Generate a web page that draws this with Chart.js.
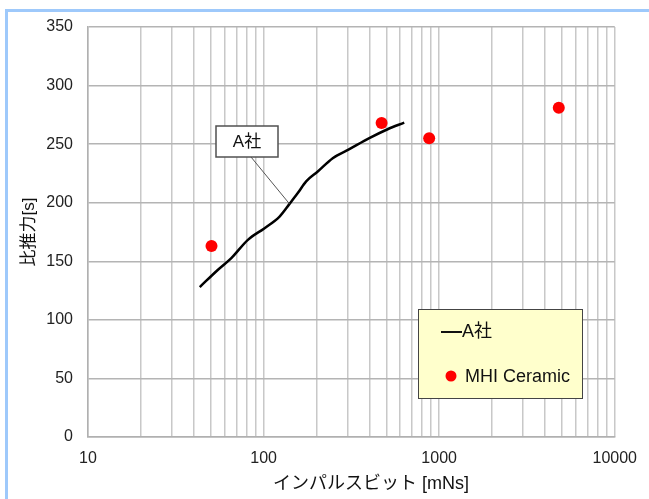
<!DOCTYPE html>
<html>
<head>
<meta charset="utf-8">
<script src="https://cdn.jsdelivr.net/npm/chart.js@4/dist/chart.umd.min.js"></script>
<style>
  html, body { margin: 0; padding: 0; background: #fff; }
  #wrap { position: relative; width: 649px; height: 499px; }
  #frame {
    position: absolute; left: 5px; top: 9px; right: 0; bottom: 0;
    border-top: 3px solid #9ec9fb; border-left: 3px solid #9ec9fb;
    pointer-events: none;
  }
</style>
</head>
<body>
<div id="wrap">
  <canvas id="chart" width="649" height="499"></canvas>
  <div id="frame"></div>
</div>
<script>
// A社 curve (impulse bit [mNs] vs specific impulse [s])
const lineLabel = "A社";
const lineX = [43.3, 55.0, 65.5, 81.4, 101.3, 123.3, 140.5, 156.6, 174.8, 203.5, 247.6, 308, 400, 508.5, 632.5];
const lineY = [128.0, 142.8, 152.7, 168.3, 178.3, 188.2, 199.0, 208.2, 218.2, 226.6, 238.0, 245.7, 255.1, 262.7, 268.4];

// MHI Ceramic points
const dotLabel = "MHI Ceramic";
const dotX = [50.5, 470, 877, 4800];
const dotY = [163, 268, 255, 281];

// axis ticks
const xTicks = [10, 20, 30, 40, 50, 60, 70, 80, 90,
  100, 200, 300, 400, 500, 600, 700, 800, 900,
  1000, 2000, 3000, 4000, 5000, 6000, 7000, 8000, 9000, 10000];
const xTickLabels = ["10", "100", "1000", "10000"];
const yTicks = [0, 50, 100, 150, 200, 250, 300, 350];

const xTitle = "インパルスビット [mNs]";
const yTitle = "比推力[s]";

const FONT = "'Liberation Sans', Arial, 'Noto Sans CJK JP', sans-serif";

// callout box pointing at the A社 curve
const calloutPlugin = {
  id: "callout",
  afterDatasetsDraw(chart) {
    const { ctx, scales: { x, y } } = chart;
    const tx = x.getPixelForValue(140.5);
    const ty = y.getPixelForValue(199);
    const bx = 216, by = 126, bw = 62, bh = 31;
    ctx.save();
    ctx.strokeStyle = "#555";
    ctx.lineWidth = 1;
    ctx.beginPath();
    ctx.moveTo(251, by + bh);
    ctx.lineTo(tx, ty);
    ctx.stroke();
    ctx.fillStyle = "#fff";
    ctx.fillRect(bx, by, bw, bh);
    ctx.lineWidth = 1.5;
    ctx.strokeStyle = "#505050";
    ctx.strokeRect(bx, by, bw, bh);
    ctx.fillStyle = "#111";
    ctx.font = "17px " + FONT;
    ctx.textAlign = "center";
    ctx.textBaseline = "middle";
    ctx.fillText(lineLabel, bx + bw / 2, by + bh / 2 + 1);
    ctx.restore();
  }
};

// legend box drawn inside the plot
const legendBoxPlugin = {
  id: "legendBox",
  afterDraw(chart) {
    const { ctx } = chart;
    const bx = 418, by = 309, bw = 164, bh = 89;
    ctx.save();
    ctx.fillStyle = "#ffffcc";
    ctx.fillRect(bx, by, bw, bh);
    ctx.strokeStyle = "#444";
    ctx.lineWidth = 1;
    ctx.strokeRect(bx + 0.5, by + 0.5, bw, bh);

    ctx.font = "18px " + FONT;
    ctx.textBaseline = "middle";
    ctx.textAlign = "left";
    ctx.fillStyle = "#111";

    ctx.strokeStyle = "#111";
    ctx.lineWidth = 2;
    ctx.beginPath();
    ctx.moveTo(441, 332);
    ctx.lineTo(462, 332);
    ctx.stroke();
    ctx.fillText(chart.data.datasets[0].label, 462, 332);

    ctx.fillStyle = "#ff0000";
    ctx.beginPath();
    ctx.arc(451, 376, 5.5, 0, Math.PI * 2);
    ctx.fill();
    ctx.fillStyle = "#111";
    ctx.fillText(chart.data.datasets[1].label, 465, 377);
    ctx.restore();
  }
};

// x axis title, sits a bit right of centre in the original
const xTitlePlugin = {
  id: "xTitle",
  afterDraw(chart) {
    const { ctx } = chart;
    ctx.save();
    ctx.font = "18px " + FONT;
    ctx.fillStyle = "#111";
    ctx.textAlign = "center";
    ctx.textBaseline = "middle";
    ctx.fillText(xTitle, 371, 484);
    ctx.restore();
  }
};

const ctx = document.getElementById("chart").getContext("2d");

new Chart(ctx, {
  type: "scatter",
  data: {
    datasets: [
      {
        label: lineLabel,
        type: "line",
        data: lineX.map((v, i) => ({ x: v, y: lineY[i] })),
        borderColor: "#000",
        borderWidth: 2.5,
        pointRadius: 0,
        cubicInterpolationMode: "monotone",
        fill: false,
        order: 2,
      },
      {
        label: dotLabel,
        data: dotX.map((v, i) => ({ x: v, y: dotY[i] })),
        backgroundColor: "#ff0000",
        borderWidth: 0,
        pointRadius: 6,
        order: 1,
      },
    ],
  },
  options: {
    responsive: false,
    animation: false,
    layout: {
      padding: { left: 0, top: 27, right: 31, bottom: 0 },
    },
    plugins: {
      legend: { display: false },
      tooltip: { enabled: false },
    },
    scales: {
      x: {
        type: "logarithmic",
        min: 10,
        max: 10000,
        afterBuildTicks: (scale) => {
          scale.ticks = xTicks.map((v) => ({ value: v }));
        },
        afterFit: (scale) => {
          scale.height = 62;
        },
        grid: {
          color: "#c8c8c8",
          lineWidth: 1.5,
          drawTicks: false,
        },
        border: { color: "#b0b0b0", width: 1.5 },
        ticks: {
          autoSkip: false,
          maxRotation: 0,
          padding: 12,
          color: "#222",
          font: { size: 16, family: FONT },
          callback: (value) => {
            const s = String(value);
            return xTickLabels.includes(s) ? s : "";
          },
        },
      },
      y: {
        min: 0,
        max: 350,
        afterBuildTicks: (scale) => {
          scale.ticks = yTicks.map((v) => ({ value: v }));
        },
        afterFit: (scale) => {
          scale.width = 88;
        },
        grid: {
          color: "#b4b4b4",
          lineWidth: 1.5,
          drawTicks: false,
        },
        border: { color: "#b0b0b0", width: 1.5 },
        ticks: {
          padding: 15,
          color: "#222",
          font: { size: 16, family: FONT },
        },
        title: {
          display: true,
          text: yTitle,
          color: "#111",
          font: { size: 17, family: FONT },
          padding: { top: 19, bottom: 0 },
        },
      },
    },
  },
  plugins: [calloutPlugin, legendBoxPlugin, xTitlePlugin],
});
</script>
</body>
</html>
